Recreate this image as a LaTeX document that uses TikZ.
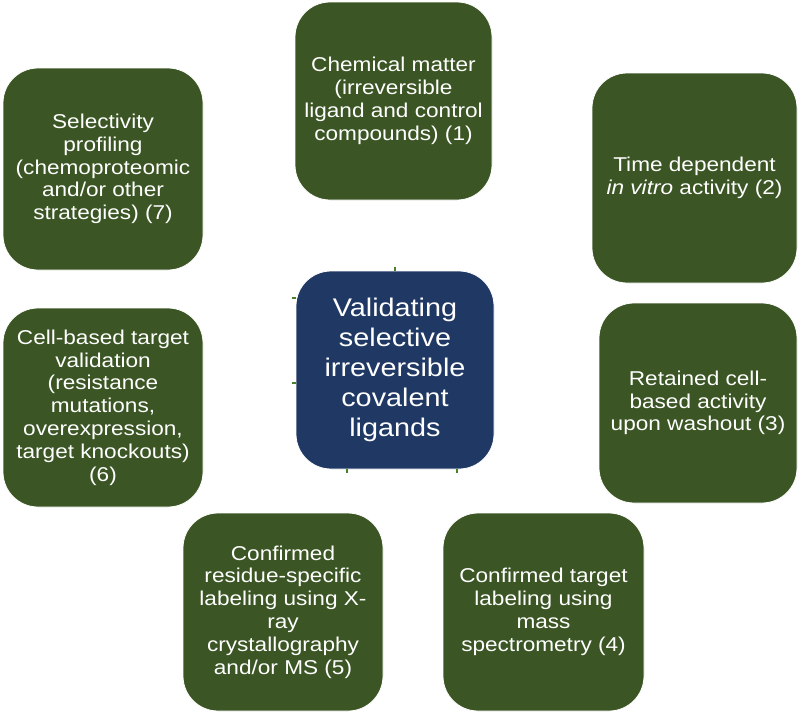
\documentclass[tikz,border=0pt]{standalone}
\usepackage{fontspec}
\setmainfont[FakeStretch=1.13]{Liberation Sans}
\definecolor{boxgreen}{RGB}{59,86,36}
\definecolor{boxblue}{RGB}{31,56,100}
\definecolor{tickgreen}{RGB}{70,130,40}
\tikzset{
  outerbox/.style={rectangle, rounded corners=35pt, fill=boxgreen, draw=white, line width=0.8pt,
    text=white, align=center, inner sep=2pt,
    font=\fontsize{20}{22.8}\selectfont},
  centerbox/.style={rectangle, rounded corners=35pt, fill=boxblue, draw=white, line width=0.8pt,
    text=white, align=center, inner sep=2pt,
    font=\fontsize{25.5}{30}\selectfont},
  tick/.style={draw=tickgreen, line width=1.2pt}
}
\begin{document}
\begin{tikzpicture}[x=1pt,y=-1pt]
\fill[white] (0,0) rectangle (800,713);
\useasboundingbox (0,0) rectangle (800,713);
% tiny connector tips
\coordinate (t1) at (395,267);
\coordinate (t7) at (292,298);
\coordinate (t6) at (292,383);
\coordinate (t5) at (347,473);
\coordinate (t4) at (457,473);
\node[centerbox, minimum width=198pt, minimum height=198pt] (c) at (395,370)
  {Validating\\selective\\irreversible\\covalent\\ligands};
\draw[tick] (c.north) -- (t1);
\draw[tick] (c.west |- t7) -- (t7);
\draw[tick] (c.west |- t6) -- (t6);
\draw[tick] (c.south -| t5) -- (t5);
\draw[tick] (c.south -| t4) -- (t4);
\node[outerbox, minimum width=197pt, minimum height=198pt] (b1) at (393.5,101)
  {Chemical matter\\(irreversible\\ligand and control\\compounds) (1)};
\node[outerbox, minimum width=205pt, minimum height=210pt] (b2) at (694.5,178)
  {Time dependent\\\textit{in vitro} activity (2)};
\node[outerbox, minimum width=198pt, minimum height=200pt] (b3) at (698,403)
  {Retained cell-\\based activity\\upon washout (3)};
\node[outerbox, minimum width=201pt, minimum height=198pt] (b4) at (543.5,612)
  {Confirmed target\\labeling using\\mass\\spectrometry (4)};
\node[outerbox, minimum width=200pt, minimum height=198pt] (b5) at (283,612)
  {Confirmed\\residue-specific\\labeling using X-\\ray\\crystallography\\and/or MS (5)};
\node[outerbox, minimum width=200pt, minimum height=199pt] (b6) at (103,407.5)
  {Cell-based target\\validation\\(resistance\\mutations,\\overexpression,\\target knockouts)\\(6)};
\node[outerbox, minimum width=200pt, minimum height=202pt] (b7) at (103,169)
  {Selectivity\\profiling\\(chemoproteomic\\and/or other\\strategies) (7)};
\end{tikzpicture}
\end{document}
